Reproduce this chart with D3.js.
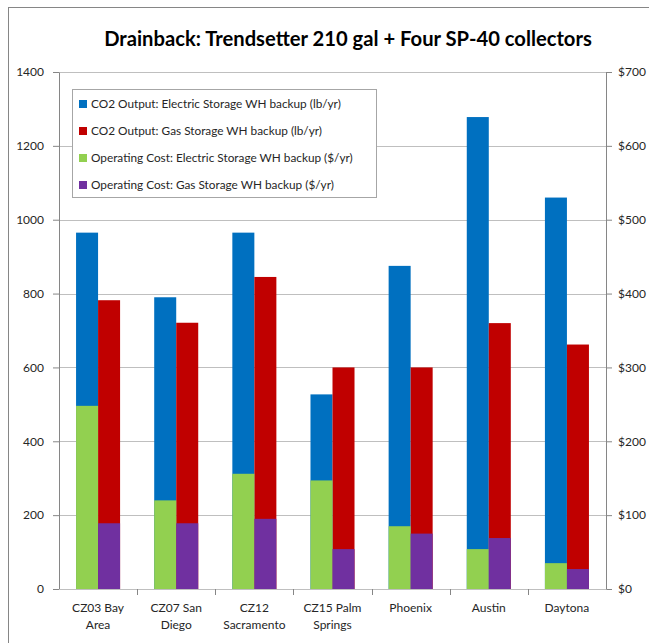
<!DOCTYPE html>
<html>
<head>
<meta charset="utf-8">
<script src="https://cdn.jsdelivr.net/npm/d3@7"></script>
<style>
  body { margin: 0; background: #fff; }
  text { font-family: Lato, "Open Sans", sans-serif; }
</style>
</head>
<body>
<div id="graph"></div>
<script>
// Data
var categories = ["CZ03 Bay Area", "CZ07 San Diego", "CZ12 Sacramento", "CZ15 Palm Springs", "Phoenix", "Austin", "Daytona"];
var catLines = [["CZ03 Bay", "Area"], ["CZ07 San", "Diego"], ["CZ12", "Sacramento"], ["CZ15 Palm", "Springs"], ["Phoenix"], ["Austin"], ["Daytona"]];
var co2Electric = [965, 790, 965, 527, 875, 1278, 1060];   // lb/yr
var co2Gas = [782, 721, 845, 600, 600, 720, 662];          // lb/yr
var costElectric = [248, 120, 156, 147, 85, 54, 35];       // $/yr
var costGas = [89, 89, 95, 54, 75, 69, 27];                // $/yr
var leftTicks = [0, 200, 400, 600, 800, 1000, 1200, 1400];
var rightTicks = [0, 100, 200, 300, 400, 500, 600, 700];
var seriesNames = [
  "CO2 Output: Electric Storage WH backup (lb/yr)",
  "CO2 Output: Gas Storage WH backup (lb/yr)",
  "Operating Cost: Electric Storage WH backup ($/yr)",
  "Operating Cost: Gas Storage WH backup ($/yr)"
];
var colors = ["#0070C0", "#C00000", "#92D050", "#7030A0"];

var W = 649, H = 643;
var margin = { top: 72, right: 43, bottom: 54, left: 59 },
    width = W - margin.left - margin.right,
    height = H - margin.top - margin.bottom;

var svg = d3.select("#graph").append("svg")
    .attr("width", W)
    .attr("height", H);

// outer chart frame (cut off at right and bottom like the original)
svg.append("rect")
    .attr("x", 8.5).attr("y", 7.5)
    .attr("width", W + 20).attr("height", H + 20)
    .attr("fill", "none")
    .attr("stroke", "#868686");

svg.append("text")
    .attr("x", 348).attr("y", 46)
    .attr("text-anchor", "middle")
    .style("font-size", "20.2px")
    .style("font-weight", "bold")
    .attr("fill", "#000")
    .text("Drainback: Trendsetter 210 gal + Four SP-40 collectors");

var g = svg.append("g")
    .attr("transform", "translate(" + margin.left + "," + margin.top + ")");

// Scales
var x0 = d3.scaleBand().domain(categories).range([0, width]);
var x1 = d3.scaleBand().domain(["elec", "gas"]).range([0, x0.bandwidth()]).paddingOuter(0.775);
var yL = d3.scaleLinear().domain([0, 1400]).range([height, 0]);
var yR = d3.scaleLinear().domain([0, 700]).range([height, 0]);

// Gridlines
g.selectAll(".grid").data(leftTicks.slice(1)).enter().append("line")
    .attr("x1", 0).attr("x2", width)
    .attr("y1", function(d) { return Math.round(yL(d)) + 0.5; })
    .attr("y2", function(d) { return Math.round(yL(d)) + 0.5; })
    .attr("stroke", "#bfbfbf");

// Bars
var groups = g.selectAll(".cat").data(categories).enter().append("g")
    .attr("transform", function(d) { return "translate(" + x0(d) + ",0)"; });

function addBars(values, key, scale, color) {
  groups.append("rect")
      .attr("x", x1(key))
      .attr("width", x1.bandwidth())
      .attr("y", function(d, i) { return scale(values[i]); })
      .attr("height", function(d, i) { return height - scale(values[i]); })
      .attr("fill", color);
}
addBars(co2Electric, "elec", yL, colors[0]);
addBars(co2Gas, "gas", yL, colors[1]);
addBars(costElectric, "elec", yR, colors[2]);
addBars(costGas, "gas", yR, colors[3]);

// Axes
var axisColor = "#868686";
var leftAxis = g.append("g")
    .call(d3.axisLeft(yL).tickValues(leftTicks).tickSize(6).tickSizeOuter(0).tickPadding(9)
      .tickFormat(d3.format("d")));
var rightAxis = g.append("g")
    .attr("transform", "translate(" + width + ",0)")
    .call(d3.axisRight(yR).tickValues(rightTicks).tickSize(6).tickSizeOuter(0).tickPadding(6)
      .tickFormat(function(d) { return "$" + d; }));
var bottomAxis = g.append("g")
    .attr("transform", "translate(0," + height + ")")
    .call(d3.axisBottom(x0).tickSize(0).tickFormat(""));

[leftAxis, rightAxis, bottomAxis].forEach(function(a) {
  a.select(".domain").attr("stroke", axisColor);
  a.selectAll(".tick line").attr("stroke", axisColor);
  a.selectAll("text").attr("fill", "#262626").style("font-size", "12px").style("font-family", "Lato, sans-serif");
});
bottomAxis.select(".domain").attr("stroke", "#bfbfbf");

// Category boundary tick marks below the baseline
g.selectAll(".catTick").data(categories.slice(1)).enter().append("line")
    .attr("x1", function(d) { return Math.round(x0(d)) + 0.5; })
    .attr("x2", function(d) { return Math.round(x0(d)) + 0.5; })
    .attr("y1", height).attr("y2", height + 6)
    .attr("stroke", axisColor);

// Category labels (two lines)
groups.append("text")
    .attr("text-anchor", "middle")
    .attr("x", x0.bandwidth() / 2)
    .attr("y", height + 23)
    .attr("fill", "#262626")
    .style("font-size", "12px")
    .selectAll("tspan")
    .data(function(d, i) { return catLines[i]; })
    .enter().append("tspan")
    .attr("x", x0.bandwidth() / 2)
    .attr("dy", function(d, i) { return i === 0 ? 0 : 17; })
    .text(function(d) { return d; });

// Legend
var legend = svg.append("g").attr("transform", "translate(72,89)");
legend.append("rect")
    .attr("x", 0.5).attr("y", 0.5)
    .attr("width", 304).attr("height", 108)
    .attr("fill", "#fff")
    .attr("stroke", "#a6a6a6");
var items = legend.selectAll(".item").data(seriesNames).enter().append("g")
    .attr("transform", function(d, i) { return "translate(7," + (15 + i * 27) + ")"; });
items.append("rect")
    .attr("x", 0).attr("y", -4)
    .attr("width", 8).attr("height", 8)
    .attr("fill", function(d, i) { return colors[i]; });
items.append("text")
    .attr("x", 12).attr("y", 4)
    .attr("fill", "#262626")
    .style("font-size", "11.8px")
    .text(function(d) { return d; });
</script>
</body>
</html>
